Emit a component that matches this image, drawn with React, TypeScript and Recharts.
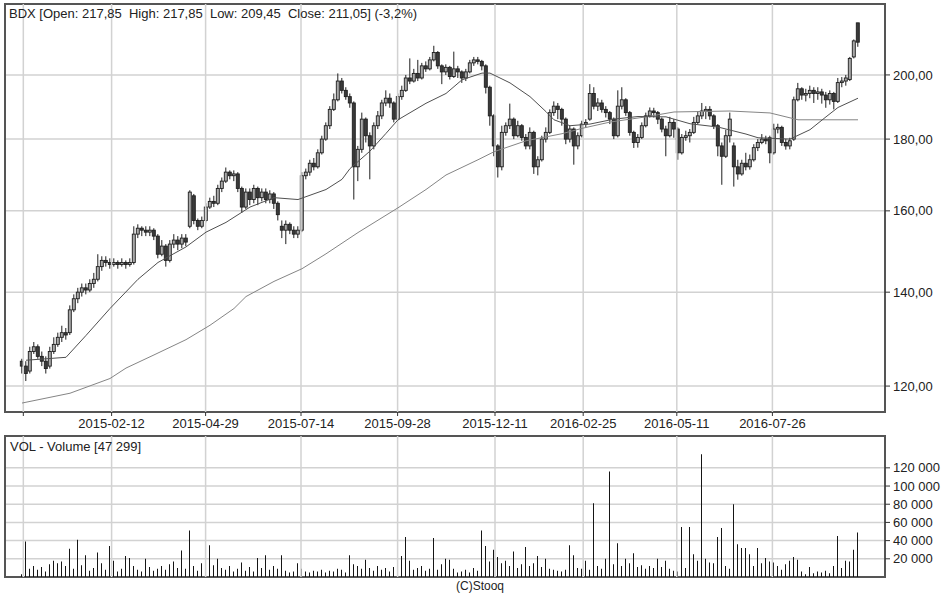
import React from 'react';
import { ComposedChart, Bar, Line, XAxis, YAxis, CartesianGrid, ReferenceLine, ReferenceArea } from 'recharts';

const FONT = '"Liberation Sans", Arial, sans-serif';

const opens = [
  125, 124, 123, 127, 128, 126, 125, 124, 127, 128.5,
  130, 131, 131, 136, 138.5, 140, 141, 140.5, 142, 143,
  146, 147.5, 147, 146.5, 147, 146.5, 147, 146.5, 147, 154,
  155.5, 155, 154.5, 155, 153.5, 149, 151, 147.5, 151.5, 152.5,
  151.5, 153, 156, 164, 157.5, 156, 157.5, 161, 162.5, 162,
  166, 168, 170.5, 169.5, 170, 166, 161, 165, 163, 166,
  163.5, 165, 163, 164.5, 162, 156, 155, 156.5, 155, 154,
  155, 169.5, 170.5, 173, 172, 176, 180, 184, 189, 192,
  198, 195, 193, 191, 172, 177, 186, 181, 178, 184,
  187, 191, 192.5, 191, 186, 193, 195, 199, 198, 200.5,
  199, 203, 202, 205, 207.5, 203, 201, 202.5, 199.5, 202,
  201, 199, 201, 204, 205, 204.5, 203, 196, 187, 178,
  172, 182, 184, 186, 181, 184, 180.5, 178, 182, 172,
  174, 180, 182, 188, 190, 189, 186, 180, 183, 178,
  181, 184.5, 186, 194, 190, 191, 189, 188, 186, 181,
  190, 192, 188, 182, 179, 180.5, 184, 187, 188.5, 188,
  186, 183, 181, 185, 183, 176, 180.5, 181, 182, 185,
  187, 188.5, 189, 187, 184, 178, 175, 181, 178, 172,
  170, 173, 172, 174, 177.5, 179, 180, 180.4, 176, 183,
  183.5, 179, 178, 180, 192, 195.5, 193.5, 194, 195, 194,
  194.5, 193.5, 192, 194, 191.5, 197.5, 198, 198.5, 206, 217.85,
];

const highs = [
  125.5, 125, 128, 129, 128.5, 127, 126, 128, 130, 131,
  132.5, 132, 137, 139.5, 141, 142, 142, 143, 144.5, 149,
  148.5, 148.5, 148, 148, 147.5, 148, 147.5, 148, 156, 156.5,
  156, 156, 156, 155.5, 154, 152.5, 151.5, 152.5, 154, 153.5,
  154, 154, 165.5, 164.5, 158, 158.5, 162, 163.5, 164, 167,
  169, 171.8, 171, 171, 170.5, 166.5, 166, 166, 167, 166.5,
  166, 166, 165.5, 165, 162.5, 157.5, 157.5, 157, 156, 156,
  170.5, 171.5, 174, 174.5, 177, 181, 185, 190, 194, 200.5,
  199, 196, 194, 191.5, 178, 188, 186.5, 182, 185, 188.5,
  192, 195, 194, 191.5, 194, 196.5, 200, 205.5, 202, 205,
  204, 204.5, 206, 209.8, 208, 203.5, 203.5, 203, 207.8, 203,
  201.5, 202, 205, 206, 206, 205, 203.5, 196.5, 187.5, 178.5,
  184, 185, 190.8, 186.5, 185.5, 184.5, 181.5, 183.5, 182.5, 175,
  181, 183.5, 189, 191.5, 191, 189.5, 186.5, 184, 183.5, 182,
  185.5, 186, 197, 196, 192.5, 192, 190, 188.5, 186.5, 195,
  196, 192.5, 188.5, 182.5, 181.5, 185, 188, 189.6, 189.5, 188.5,
  186.5, 184, 186.7, 186, 183.5, 181.5, 182.5, 183, 186.7, 188.5,
  191, 190, 190, 187.5, 184.5, 179, 182.8, 188, 179, 174,
  174, 176, 175.5, 178.5, 180, 181.5, 181, 181, 184.6, 184.6,
  184, 180, 180.4, 193, 197.4, 196, 195.5, 196.5, 196, 196,
  195.5, 194.5, 195, 194.5, 199, 199.3, 200, 206, 212, 217.85,
];

const lows = [
  122.5, 121, 122.5, 126.5, 125.5, 124, 122.5, 123.5, 126.5, 128,
  129, 129.5, 130.5, 135.5, 137.5, 139, 139.5, 140, 141, 142.5,
  145, 146, 145.5, 146, 145.5, 146, 145.5, 146, 146.5, 153,
  153.5, 153.5, 153.5, 152.5, 148, 148.5, 146, 147, 150.5, 150,
  150.5, 151, 155.5, 156.5, 155, 155.5, 157, 160.5, 161, 161.5,
  165, 167.5, 168.5, 168, 165, 159.5, 160.5, 161.5, 162, 161.5,
  162.5, 162, 162, 160.5, 157.5, 153, 151.5, 154, 153, 153,
  154.5, 168.5, 169.5, 171, 171.5, 175.5, 179.5, 183, 188.5, 191.5,
  194, 192, 189.5, 163, 168, 176, 179, 168.5, 177, 183,
  186, 190, 189.5, 185, 185.5, 192, 194.5, 197, 197.5, 198,
  198.5, 201, 201.5, 204.5, 202, 197, 200, 198.5, 199, 199,
  197.4, 198, 200.5, 203, 203.5, 201.5, 194, 184, 175, 169,
  171, 181, 183, 180, 180.5, 179.5, 177, 177, 170, 169.6,
  173.5, 179, 181.5, 187, 186, 184, 178.5, 179, 172.6, 177,
  180.5, 183.5, 185.5, 189, 188.5, 188, 186.5, 184.5, 180, 180.5,
  189, 187, 181, 177.4, 177.5, 180, 183.5, 186.5, 186.5, 184.5,
  182, 175, 180.5, 180.4, 174, 175.5, 179.5, 179, 181.5, 184.5,
  186, 186, 185.8, 183, 175, 167, 174.5, 179, 166.5, 168.4,
  169.5, 171, 171.2, 173.5, 176.5, 178.5, 178.5, 173, 175.5, 181.7,
  178, 176.9, 177, 179.5, 191.5, 192, 191.5, 192.5, 191, 192,
  190.8, 189.5, 190.5, 189, 191, 196, 196.5, 198, 205.5, 209.45,
];

const closes = [
  124, 122.5, 127, 128, 126, 125, 123.5, 127, 128.5, 130,
  131, 130.5, 136, 138.5, 140, 141, 140.5, 142, 143, 146,
  147.5, 147, 146.5, 147, 146.5, 147, 146.5, 147, 154, 155.5,
  155, 154.5, 155, 153.5, 149, 151, 147.5, 151.5, 152.5, 151.5,
  153, 152, 165, 157.5, 156, 157.5, 161, 162.5, 162, 166,
  168, 170.5, 169.5, 170, 166, 161, 165, 163, 166, 163.5,
  165, 163, 164.5, 162, 159, 155, 156.5, 155, 154, 155,
  169.5, 170.5, 173, 172, 176, 180, 184, 189, 192, 198,
  195, 193, 191, 172, 177, 186, 181, 178, 184, 187,
  191, 192.5, 191, 186, 193, 195, 199, 198, 200.5, 199,
  203, 202, 205, 207.5, 203, 201, 202.5, 199.5, 202, 201,
  199, 201, 204, 205, 204.5, 203, 196, 187, 178, 172,
  182, 184, 186, 181, 184, 180.5, 178, 182, 172, 174,
  180, 182, 188, 190, 189, 186, 180, 183, 178, 181,
  184.5, 185, 194, 190, 191, 189, 188, 186, 181, 190,
  192, 188, 182, 179, 180.5, 184, 187, 188.5, 188, 186,
  183, 181, 185, 183, 176, 180.5, 181, 182, 185, 187,
  188.5, 189, 187, 184, 178, 175, 181, 186, 172, 170,
  173, 172, 174, 177.5, 179, 180, 179.5, 176, 183, 183.5,
  179, 178, 179.5, 192, 195.5, 193.5, 194, 195, 194, 194.5,
  193.5, 192, 194, 191.5, 197.5, 198, 199, 205.5, 211.5, 211.05,
];

const volumes = [
  3000, 39000, 9000, 12000, 8000, 11000, 6000, 14000, 18000, 15000,
  17000, 12000, 31000, 9000, 41000, 13000, 24000, 7000, 10000, 27000,
  15000, 8000, 34000, 18000, 6000, 9000, 23000, 21000, 12000, 8000,
  6000, 20000, 11000, 7000, 9000, 12000, 8000, 14000, 17000, 10000,
  29000, 9000, 51000, 12000, 7000, 15000, 58000, 35000, 13000, 20000,
  10000, 8000, 12000, 6000, 9000, 16000, 7000, 11000, 6000, 21000,
  10000, 24000, 8000, 12000, 9000, 24000, 7000, 5000, 6000, 15000,
  9000, 6000, 5000, 7000, 6000, 8000, 5000, 7000, 6000, 9000,
  8000, 5000, 24000, 14000, 12000, 9000, 19000, 10000, 7000, 12000,
  8000, 10000, 6000, 11000, 9000, 23000, 44000, 18000, 8000, 10000,
  12000, 7000, 9000, 43000, 8000, 14000, 20000, 19000, 9000, 5000,
  6000, 8000, 5000, 10000, 7000, 51000, 34000, 17000, 30000, 22000,
  15000, 18000, 12000, 28000, 10000, 14000, 33000, 12000, 15000, 23000,
  11000, 20000, 9000, 8000, 7000, 6000, 8000, 35000, 24000, 10000,
  9000, 18000, 8000, 81000, 12000, 9000, 20000, 116000, 14000, 37000,
  12000, 20000, 15000, 26000, 11000, 13000, 9000, 12000, 10000, 20000,
  11000, 18000, 9000, 7000, 6000, 55000, 10000, 55000, 25000, 18000,
  135000, 20000, 16000, 15000, 44000, 54000, 12000, 9000, 80000, 36000,
  32000, 32000, 25000, 12000, 32000, 15000, 21000, 17000, 16000, 12000,
  8000, 14000, 18000, 22000, 19000, 6000, 3000, 11000, 4000, 6000,
  5000, 7000, 4000, 12000, 45000, 10000, 18000, 17000, 30000, 49000,
];

const fastMaIdx = [1, 11, 16, 22, 29, 34, 41, 46, 51, 57, 63, 69, 76, 80, 82, 87, 91, 94, 101, 106, 110, 115, 117, 122, 127, 131, 133, 137, 142, 148, 154, 161, 167, 174, 181, 184, 192, 197, 201, 204, 209];
const fastMaVal = [125.2, 125.8, 130.4, 136.3, 143, 147, 150.8, 154.5, 157, 161, 163.5, 163, 165.7, 168.5, 171.5, 176.5, 181.7, 185.8, 190.9, 194, 198.4, 200.6, 200.6, 197.4, 193, 188.3, 185.8, 184, 184.5, 186, 186.8, 186.7, 184.6, 183.6, 181.5, 180.4, 180, 182.8, 186.7, 189.6, 192.5];

const slowMaIdx = [0, 12, 22, 26, 33, 41, 47, 53, 56, 63, 70, 76, 84, 94, 101, 106, 114, 118, 126, 135, 140, 147, 156, 163, 177, 187, 194, 209];
const slowMaVal = [116.7, 118.6, 121.5, 123.6, 126.3, 129.5, 132.6, 136.3, 139, 142.5, 145.5, 149.1, 154.4, 160.8, 165.7, 169.7, 174, 176.3, 179.5, 181.6, 183.2, 185.1, 186.7, 188.2, 188.5, 187.9, 185.8, 185.8];

const dateTickIdx = [0.33, 22.4, 45.9, 69.75, 93.9, 118.25, 140.3, 163.7, 187.6];
const dateTickLabels = ['', '2015-02-12', '2015-04-29', '2015-07-14', '2015-09-28', '2015-12-11', '2016-02-25', '2016-05-11', '2016-07-26'];
const priceTicks = [120, 140, 160, 180, 200];
const volumeTicks = [20000, 40000, 60000, 80000, 100000, 120000];

const titleText = 'BDX [Open: 217,85  High: 217,85  Low: 209,45  Close: 211,05] (-3,2%)';
const volumeText = 'VOL - Volume [47 299]';

const X_MIN = -4.25;
const X_MAX = 215.75;
const P_MIN = 115;
const P_MAX = 224.7;
const V_MAX = 155000;

const data = closes.map((c, i) => {
  const fi = fastMaIdx.indexOf(i);
  const si = slowMaIdx.indexOf(i);
  return {
    i,
    o: opens[i],
    h: highs[i],
    l: lows[i],
    c,
    range: [lows[i], highs[i]],
    v: volumes[i],
    fast: fi >= 0 ? fastMaVal[fi] : null,
    slow: si >= 0 ? slowMaVal[si] : null,
  };
});

const fmtPrice = (v: number) => v.toFixed(2).replace('.', ',');
const fmtVol = (v: number) => `${Math.round(v / 1000)} 000`;
const fmtDate = (v: number) => {
  const k = dateTickIdx.findIndex((t) => Math.abs(t - v) < 0.01);
  return k >= 0 ? dateTickLabels[k] : '';
};

function Candle(props: any) {
  const { x, y, width, height, payload } = props;
  if (x == null || y == null || !payload) return null;
  const top = Math.min(y, y + height);
  const bot = Math.max(y, y + height);
  const cx = x + width / 2;
  const lh = Math.log(payload.h);
  const ll = Math.log(payload.l);
  const span = lh - ll;
  const py = (p: number) => (span > 0 ? top + ((bot - top) * (lh - Math.log(p))) / span : top);
  const yo = py(payload.o);
  const yc = py(payload.c);
  const bt = Math.min(yo, yc);
  const bb = Math.max(yo, yc);
  const up = payload.c >= payload.o;
  return (
    <g>
      <line x1={cx} x2={cx} y1={top} y2={bot} stroke="#1e1e1e" strokeWidth={1} />
      <rect x={cx - 1.5} y={bt} width={3} height={Math.max(bb - bt, 1)} fill={up ? '#a9a9a9' : '#3a3a3a'} stroke="#1e1e1e" strokeWidth={0.9} />
    </g>
  );
}

const tickStyle = { fill: '#222', fontSize: 13, fontFamily: FONT };
const GRID = '#d2d2d2';
const FRAME = '#555';

export default function App() {
  return (
    <div style={{ position: 'absolute', left: 0, top: 0, width: 948, height: 593, overflow: 'hidden', background: '#fff', fontFamily: FONT }}>
      <div style={{ position: 'absolute', left: 0, top: 0 }}>
        <ComposedChart width={948} height={442} data={data} margin={{ top: 4, right: 3, bottom: 0, left: 5 }}>
          <CartesianGrid vertical={false} stroke={GRID} strokeWidth={1.5} />
          {dateTickIdx.map((t) => (
            <ReferenceLine key={'pv' + t} x={t} stroke={GRID} strokeWidth={1.5} />
          ))}
          <XAxis
            type="number"
            dataKey="i"
            domain={[X_MIN, X_MAX]}
            allowDataOverflow
            ticks={dateTickIdx}
            interval={0}
            tickFormatter={fmtDate}
            axisLine={false}
            tickLine={{ stroke: '#333' }}
            tickSize={4}
            tickMargin={3}
            height={30}
            tick={tickStyle}
          />
          <YAxis
            orientation="right"
            type="number"
            scale="log"
            domain={[P_MIN, P_MAX]}
            allowDataOverflow
            ticks={priceTicks}
            interval={0}
            tickFormatter={fmtPrice}
            axisLine={false}
            tickLine={{ stroke: '#333' }}
            tickSize={5}
            tickMargin={3}
            width={60}
            tick={tickStyle}
          />
          <Line dataKey="slow" stroke="#858585" strokeWidth={1} dot={false} connectNulls isAnimationActive={false} />
          <Line dataKey="fast" stroke="#505050" strokeWidth={1} dot={false} connectNulls isAnimationActive={false} />
          <Bar dataKey="range" shape={Candle} barSize={4} isAnimationActive={false} />
          <ReferenceArea x1={X_MIN} x2={X_MAX} y1={P_MIN} y2={P_MAX} fill="none" stroke={FRAME} strokeWidth={2} ifOverflow="visible" />
        </ComposedChart>
      </div>
      <div style={{ position: 'absolute', left: 0, top: 430 }}>
        <ComposedChart width={948} height={150} data={data} margin={{ top: 6, right: 3, bottom: 3, left: 5 }}>
          <CartesianGrid vertical={false} stroke={GRID} strokeWidth={1.5} />
          {dateTickIdx.map((t) => (
            <ReferenceLine key={'vv' + t} x={t} stroke={GRID} strokeWidth={1.5} />
          ))}
          <XAxis type="number" dataKey="i" domain={[X_MIN, X_MAX]} allowDataOverflow ticks={dateTickIdx} hide height={0} />
          <YAxis
            orientation="right"
            type="number"
            domain={[0, V_MAX]}
            allowDataOverflow
            ticks={volumeTicks}
            interval={0}
            tickFormatter={fmtVol}
            axisLine={false}
            tickLine={{ stroke: '#333' }}
            tickSize={5}
            tickMargin={3}
            width={60}
            tick={tickStyle}
          />
          <Bar dataKey="v" fill="#151515" barSize={1} isAnimationActive={false} />
          <ReferenceArea x1={X_MIN} x2={X_MAX} y1={0} y2={V_MAX} fill="none" stroke={FRAME} strokeWidth={2} ifOverflow="visible" />
        </ComposedChart>
      </div>
      <div style={{ position: 'absolute', left: 9, top: 6, fontSize: 13, lineHeight: '15px', color: '#222', whiteSpace: 'pre' }}>{titleText}</div>
      <div style={{ position: 'absolute', left: 10, top: 439, fontSize: 13, lineHeight: '15px', color: '#222', whiteSpace: 'pre' }}>{volumeText}</div>
      <div style={{ position: 'absolute', left: 480, top: 579, transform: 'translateX(-50%)', fontSize: 12, lineHeight: '14px', color: '#222' }}>(C)Stooq</div>
    </div>
  );
}
